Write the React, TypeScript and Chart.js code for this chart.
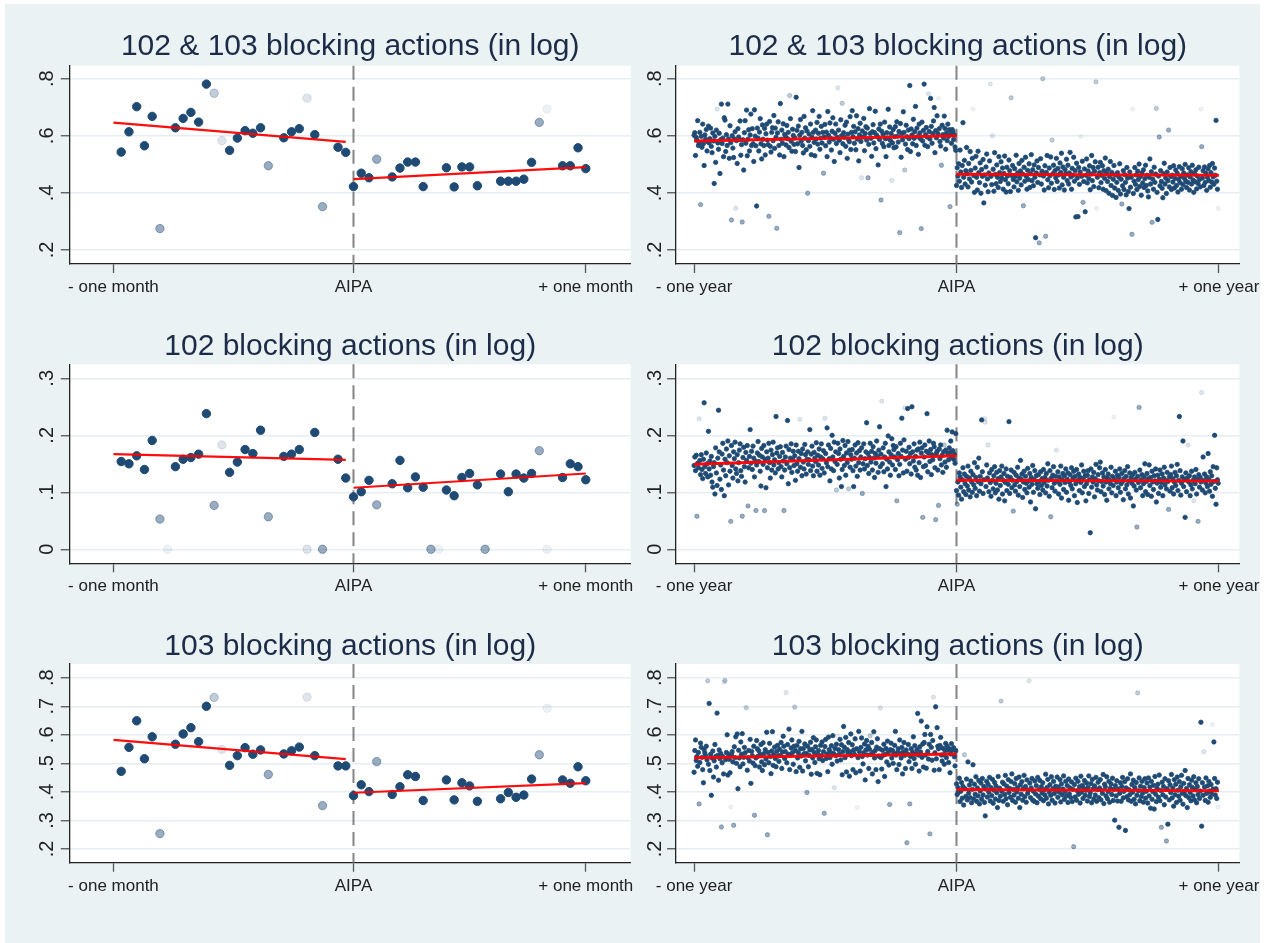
import React, { useEffect, useRef } from 'react';
import { Chart, registerables } from 'chart.js';

Chart.register(...registerables);

// ---------- DATA (values in thousandths; suffix a-d = faded marker, "-" = no marker) ----------
// one-month windows: pre = days -30..-1, post = days 0..30
const TL_PRE = "543 614 702 565 668 275a - 628 661 682 648 781 749b 583c 549 592 618 609 628 495a - 593 614 625 732c 604 352a - 560 542";
const TL_POST = "422 469 453 518a - 456 487 508 508 422 - - 488 421 491 491 425 - - 441 441 441 448 507 647a 694d - 495 495 558 485";
const ML_PRE = "154 150 164 140 191 053a 000d 145 158 161 167 238 077a 183c 135 153 175 168 209 057a - 163 167 175 000c 205 000a - 158 125";
const ML_POST = "092 101 121 078a - 115 156 108 127 109 000a 000d 104 094 126 133 113 000a - 132 101 132 125 133 173a 000d - 126 150 145 122";
const BL_PRE = "472 556 649 516 593 254a - 567 603 625 576 700 731b 549c 493 527 555 532 547 461a - 533 544 557 732c 527 352a - 491 491";
const BL_POST = "387 425 401 506a - 391 418 460 454 370 - - 442 372 432 421 367 - - 376 398 381 389 445 530a 693d - 442 430 488 439";

// one-year windows: pre = days -365..-1, post = days 0..364
const TR_PRE = `
602 611 531 594 585 653 566 575 612 359a 598 560 641 572 496 603 588 622 547 579
634 575 590 627 563 541 610 582 433 598 507 620 694c 575 553 609 468 586 711 573
592 527 663 655 545 604 566 711 589 521 635 576 305a 600 557 524 589 614 346c 583
503 625 596 587 652 532 569 298a 586 480 611 653 574 690 530 588 621 547 603 676
566 625 572 510 691 599 565 354 627 592 547 613 660 572 519 638 588 566 626 533
607 641 585 569 318a 650 563 543 612 628 583 671 556 627 595 276a 610 649 566 533
713 588 620 574 642 527 605 598 568 636 590 612 559 741b 660 581 546 623 601 570
593 545 735 619 572 634 489 602 657 581 612 566 540 668 592 628 551 617 399a 583
606 563 641 534 595 688 612 577 530 620 589 647 571 609 668 553 592 633 575 612
469a 596 640 565 613 527 685 602 578 645 591 550 616 663 588 510 609 641 573 595
768c 620 584 541 656 600 714b 572 611 595 637 563 648 521 606 586 579 667 552 612
688 597 633 574 614 551 670 589 625 512 603 644 580 453c 617 596 661 548 608 632
585 627 453a 570 695 608 591 528 614 639 575 611 686 555 602 597 498 624 587 641
375a 616 573 605 562 648 590 527 611 592 693 566 631 584 608 444c 575 622 558 597
632 561 649 599 578 615 261a 643 525 608 586 684 612 480b 571 637 597 552 620 590
776 545 624 603 572 658 591 614 703 566 627 597 535 641 610 589 275a 648 582 619
781 567 604 629 596 562 747c 615 589 731 633 574 608 652 699 541 618 593 670 608
732d 625 580 564 497a 637 604 592 669 626 553 610 583 641 598 621 352a 606 574 622
615 587 603 561 549`;
const TR_POST = `
426 488 459 502 441 550 473 419 496 646 455 514 431 478 559 467 421 503 449 545
479 438 521 694d 461 402 487 528 455 410 546 471 436 505 399 482 458 517 365 463
427 491 536 449 404 470 512 781c 458 429 600c 483 406 541 465 432 498 455 419 527
471 440 509 452 487 413 468 529 446 403 490 459 432 515 478 405 733b 461 496 447
421 485 458 532 439 470 409 503 452 477 428 514 466 355a 490 441 525 458 413 479
447 502 419 467 534 443 481 425 498 455 243 470 512 437 489 225a 463 520 431 476
800b 459 410 495 248a 472 531 446 418 487 460 526 434 585b 467 497 412 478 453 521
440 486 463 417 505 472 539 428 491 455 410 482 467 518 443 497 431 470 542 456
413 486 462 525 441 478 316 504 452 317 489 430 473 597d 458 511 367a 440 484 334
462 519 435 477 450 495 411 466 531 443 489 422 476 509 789b 346d 455 490 418 471
507 436 462 495 413 478 451 522 408 469 440 483 399 457 510 426 472 391 448 496
417 463 384 437 471 409 455 502 396 448 361a 425 478 412 464 437 393 489 452 405
345 473 420 455 255a 694d 398 441 489 430 463 412 476 447 501 423 458 392 470 435
481 419 450 497 426 462 407 386 455 519 431 474 297a 448 413 490 437 466 696b 402
307 459 596a 425 478 440 416 383 467 504 431 452 398 473 443 620a 421 489 457 412
462 438 495 417 451 480 426 469 403 447 492 436 458 413 485 429 470 451 500 441
419 463 437 488 410 456 474 431 497 445 402 468 439 481 414 459 433 490 447 421
694d 562a 452 478 426 491 437 468 409 455 484 443 496 420 471 438 503 456 430 487
462 654 441 413 346d`;
const MR_PRE = `
147 162 138 165 058a 151 143 229c 156 131 166 140 124 158 257 145 133 169 150 127
207 141 155 130 163 118 109 145 152 097 178 134 112 160 244 171 123 148 105 167
186 139 094 158 129 176 152 190 113 164 137 049a 182 147 125 171 159 188 141 133
166 120 152 174 185 138 128 058a 161 179 145 118 170 156 182 076a 143 163 210 151
172 140 181 160 127 155 068a 148 169 189 154 165 137 111 177 162 149 182 068a 158
108 171 143 160 186 152 125 174 139 166 188 148 157 134 233 169 178 141 152 163
180 145 127 170 155 068a 139 162 181 150 226 115 175 143 160 185 135 158 172 147
164 121 183 150 137 172 159 228c 144 168 129 176 153 141 184 166 132 158 171 149
157 210 138 167 181 146 129 170 160 154 187 137 165 148 176 130 162 185 142 159
173 134 230c 168 152 213 145 183 159 120 177 141 200 162 138 188 154 171 104b 149
186 168 125 176 158 110 140 191 163 147 182 130 169 152 189 106b 174 144 166 158
175 138 110 160 183 146 169 128 187 152 173 139 162 178 098a 150 185 141 159 171
222 147 168 133 161 186 153 172 139 180 160 126 168 151 190 163 135 174 215 145
167 260c 150 178 136 162 186 110 158 141 199 171 153 130 166 194 148 182 175 162
140 180 085a 157 168 129 149 186 163 230 174 134 192 248c 158 172 137 247 161 179
150 168 132 250 171 155 185 144 163 139 174 130 176 152 188 126 169 178 056a 145
162 183 147 172 238 136 169 190 154 175 131 166 157 186 180 143 052a 168 172 139
077a 176 159 183 148 165 135 171 183b 153 174 144 209 168 157 178 170 190 162 206
173 158 167 151 203`;
const MR_POST = `
103 079a 118 095 134 127 109 088 122 143 101 132 115 096 128 111 146 104 125 092
137 118 100 131 113 152 107 126 094 144 119 160 102 128 115 227 136 098 122 229c
223c 110 148 125 183c 101 134 117 093 140 121 106 129 145 099 116 135 104 124 088
138 112 127 146 097 121 133 085 117 141 103 128 114 224 098 126 139 108 121 067a
135 113 102 130 119 144 095 125 110 156 123 132 091 118 137 105 128 116 099 142
120 109 133 083 126 114 147 100 122 138 071 129 115 107 131 119 096 136 112 124
104 140 117 126 099 133 111 150 121 093 138 057a 125 108 130 145 116 102 128 174c
119 136 097 127 114 146 090 122 133 105 129 117 141 100 123 134 086 118 131 112
143 106 125 137 094 128 115 140 082 121 132 103 126 117 148 099 124 137 110 129
085 115 130 138 098 122 029 141 109 127 118 135 092 124 149 113 104 131 120 143
153 101 119 134 111 127 096 140 118 086 125 132 106 121 115 144 099 128 112 232d
123 137 094 118 130 108 126 141 100 115 133 119 087 124 138 106 128 113 145 097
120 134 090 126 116 131 076 111 135 123 104 039a 128 117 249a 139 108 122 131 094
115 127 150 101 119 133 096 124 148 112 126 093 137 118 105 129 120 141 083 116
130 098 123 139 109 117 132 094 125 144 113 121 106 135 119 070a 127 102 131 146
108 124 097 118 135 112 129 149 103 121 233 138 095 116 127 190 110 122 056 134
101 125 183c 118 129 094 113 137 106 121 085c 127 115 140 097 123 049a 131 109 126
118 275c 104 162 121 132 099 116 127 110 168 123 102 136 114 129 093 145 119 200
107 079 143 122 116`;
const BR_PRE = `
469 545 582 510 524 490 538 358a 503 571 556 521 478 432 548 536 527 560 512 789b
497 710 475 532 388 519 543 452 509 566 524 487 676 528 441 547 516 535 277a 502
524 463 785c 790b 513 538 600 459 531 514 467 347d 529 541 505 283a 558 520 593 500
603 411 546 519 488 575 532 604 498 521 556 537 696c 694c 476 520 545 508 584 430
542 527 501 560 318a 492 519 580 551 525 544 487 531 566 505 475 572 534 495 548
515 609 250a 538 502 570 524 464 543 611 493 530 557 517 488 542 563 526 507 550
528 573 482 540 595 560 517 541 748c 502 566 532 620 478 529 554 582 538 497 560
697b 545 471 563 519 537 577 486 551 526 612 473 552 534 568 509 535 398a 560 488
528 547 574 462 549 519 590 538 503 558 582 465 531 545 516 460 563 527 575 510
541 325a 559 584 517 533 471 592 548 520 538 562 497 597 535 415c 552 527 567 508
597d 548 532 584 512 565 460 541 629 557 520 591 470 548 537 573 455 540 603 527
565 478 547 532 586 467 551 345d 520 612 541 473 556 589 524 498 537 568 442 547
580 529 560 482 549 597b 531 573 463 539 611 519 545 478 557 586 436 525 551 694c
520 480 546 528 567 454 532 552 505 578 538 494 356a 548 571 519 545 500 534 563
612 529 478 539 551 496 582 535 519 556 463 540 573 528 482 547 222a 533 566 506
358a 524 551 482 539 593 517 562 497 533 548 675 529 473 558 540 648 521 568 487
573 601 529 483 628 542 515 567 253a 601 556 511 580 732c 476 537 698 516 625 560
551 478 563 591 529 508 553 530 497 545 570 520 560 546 503 551 467 533 569 546
548 555 523 491 544`;
const BR_POST = `
428 391 415 399 448 366 402 433 378 419 354 530b 411 384 445 372 505 396 424 380
438 362 409 495 376 427 392 453 367 414 386 440 358 403 431 374 447 389 419 363
316 410 437 382 426 399 451 368 415 387 444 360 406 433 375 421 397 345 454 370
413 385 718b 402 434 367 428 391 458 376 420 355 443 398 412 381 436 463 370 409
389 429 364 447 400 416 378 452 345 425 392 436 371 411 458 383 419 364 442 395
406 789c 431 380 414 447 371 402 367 438 393 422 362 451 385 409 440 376 418 396
432 369 407 389 462 378 416 444 358 400 425 388 453 371 411 437 394 361 420 405
452 381 417 399 443 365 428 390 410 456 374 401 437 386 422 363 445 393 414 380
435 366 409 208a 426 382 448 371 404 437 392 418 361 455 399 423 377 412 440 388
406 431 368 416 456 384 397 429 362 444 410 375 421 389 451 367 408 434 380 414
443 372 405 395 461 359 427 418 386 453 376 401 437 364 413 428 391 448 370 409
301 422 386 439 368 410 276 395 432 367 419 451 379 402 436 265 414 383 446 372
408 390 463 367 426 399 441 374 416 358 433 388 747b 404 449 369 420 384 437 396
364 415 446 378 402 431 361 449 386 417 343 437 374 401 423 340 454 392 366 413
427 381 459 369 405 276a 434 390 419 355 446 382 228a 411 287 439 372 425 398 461
379 414 350 443 390 427 363 452 406 385 436 371 418 458 395 357 430 401 475 387
412 345 447 380 425 398 369 441 416 386 453 372 408 432 362 419 391 446 377 403
644 280 432 388 541c 417 370 449 395 421 364 437 403 381 426 393 636d 410 575 447
389 411 377 434 347d`;

// fitted lines (pre / post), [day, value]
const TL_FIT = [[[-31, 0.646], [-1, 0.579]], [[0, 0.448], [30, 0.490]]];
const ML_FIT = [[[-31, 0.167], [-1, 0.157]], [[0, 0.108], [30, 0.133]]];
const BL_FIT = [[[-31, 0.582], [-1, 0.515]], [[0, 0.397], [30, 0.431]]];
const TR_FIT = [[[-365, 0.582], [0, 0.600]], [[0, 0.465], [365, 0.462]]];
const MR_FIT = [[[-365, 0.149], [0, 0.164]], [[0, 0.121], [365, 0.120]]];
const BR_FIT = [[[-365, 0.520], [0, 0.533]], [[0, 0.408], [365, 0.404]]];

const TITLES = ['102 & 103 blocking actions (in log)', '102 blocking actions (in log)', '103 blocking actions (in log)'];
const Y_TICKS = [[0.2, 0.4, 0.6, 0.8], [0, 0.1, 0.2, 0.3], [0.2, 0.3, 0.4, 0.5, 0.6, 0.7, 0.8]];
const Y_LABELS = [['.2', '.4', '.6', '.8'], ['0', '.1', '.2', '.3'], ['.2', '.3', '.4', '.5', '.6', '.7', '.8']];
const Y_RANGE = [[0.151, 0.8455], [-0.0246, 0.3246], [0.152, 0.848]];
const X_TICKS = [[-31, 0, 30], [-365, 0, 365]];
const X_LABELS = [['- one month', 'AIPA', '+ one month'], ['- one year', 'AIPA', '+ one year']];
const X_RANGE = [[-36.64, 35.79], [-390, 393.5]];

// ---------- layout / style ----------
const FONT = "'Liberation Sans', Arial, Helvetica, sans-serif";
const NAVY = '30,74,116';
const ALPHA: Record<string, number> = { '': 1, a: 0.45, b: 0.28, c: 0.14, d: 0.07 };
const ROWS = [
  { top: 4, areaTop: 61.7, areaBottom: 260, titleY: 51 },
  { top: 304, areaTop: 60.3, areaBottom: 259.3, titleY: 51 },
  { top: 604, areaTop: 60, areaBottom: 258.7, titleY: 51 },
];
const COLS = [
  { left: 5, width: 635, areaLeft: 64.8, areaRight: 625.6, r: 4.2, bw: 1, fitW: 2.2, ylOff: 16.5 },
  { left: 640, width: 620, areaLeft: 36.1, areaRight: 599.4, r: 2.2, bw: 0.8, fitW: 3, ylOff: 15.5 },
];
const CANVAS_H = 300;

type Pt = { x: number; y: number; a: number };
function parseSeries(pre: string, post: string): Pt[] {
  const p = pre.trim().split(/\s+/);
  const q = post.trim().split(/\s+/);
  const out: Pt[] = [];
  const add = (t: string, x: number) => {
    if (t === '-') return;
    const m = /^(\d+)([a-d]?)$/.exec(t);
    if (!m) return;
    out.push({ x, y: parseInt(m[1], 10) / 1000, a: ALPHA[m[2]] });
  };
  p.forEach((t, i) => add(t, -p.length + i));
  q.forEach((t, i) => add(t, i));
  return out;
}

const PANELS = [
  { row: 0, col: 0, pre: TL_PRE, post: TL_POST, fit: TL_FIT },
  { row: 0, col: 1, pre: TR_PRE, post: TR_POST, fit: TR_FIT },
  { row: 1, col: 0, pre: ML_PRE, post: ML_POST, fit: ML_FIT },
  { row: 1, col: 1, pre: MR_PRE, post: MR_POST, fit: MR_FIT },
  { row: 2, col: 0, pre: BL_PRE, post: BL_POST, fit: BL_FIT },
  { row: 2, col: 1, pre: BR_PRE, post: BR_POST, fit: BR_FIT },
];

function Panel({ cfg }: { cfg: typeof PANELS[number] }) {
  const ref = useRef<HTMLCanvasElement | null>(null);
  const row = ROWS[cfg.row];
  const col = COLS[cfg.col];
  useEffect(() => {
    if (!ref.current) return;
    const pts = parseSeries(cfg.pre, cfg.post);
    const yT = Y_TICKS[cfg.row];
    const yL = Y_LABELS[cfg.row];
    const xT = X_TICKS[cfg.col];
    const xL = X_LABELS[cfg.col];
    const title = TITLES[cfg.row];

    const decor = {
      id: 'decor',
      beforeDraw(chart: any) {
        const { ctx, chartArea: a } = chart;
        ctx.save();
        ctx.fillStyle = '#ffffff';
        ctx.fillRect(a.left, a.top, a.right - a.left, a.bottom - a.top);
        ctx.restore();
      },
      beforeDatasetsDraw(chart: any) {
        const { ctx, chartArea: a } = chart;
        const x0 = chart.scales.x.getPixelForValue(0);
        ctx.save();
        ctx.strokeStyle = 'rgba(120,120,120,0.9)';
        ctx.lineWidth = 2;
        ctx.setLineDash([14, 7]);
        ctx.beginPath();
        ctx.moveTo(x0, a.top);
        ctx.lineTo(x0, a.bottom);
        ctx.stroke();
        ctx.restore();
      },
      afterDraw(chart: any) {
        const { ctx, chartArea: a } = chart;
        ctx.save();
        ctx.fillStyle = '#1c2b48';
        ctx.font = `30px ${FONT}`;
        ctx.textAlign = 'center';
        ctx.textBaseline = 'alphabetic';
        ctx.fillText(title, (a.left + a.right) / 2, row.titleY);
        ctx.fillStyle = '#222222';
        ctx.font = `20px ${FONT}`;
        const ys = chart.scales.y;
        yT.forEach((v, i) => {
          const py = ys.getPixelForValue(v);
          ctx.save();
          ctx.translate(a.left - col.ylOff, py);
          ctx.rotate(-Math.PI / 2);
          ctx.textAlign = 'center';
          ctx.textBaseline = 'alphabetic';
          ctx.fillText(yL[i], 0, 0);
          ctx.restore();
        });
        ctx.restore();
      },
    };

    const fitDs = (seg: number[][]) => ({
      data: seg.map(([x, y]) => ({ x, y })),
      showLine: true,
      borderColor: 'rgba(255,0,0,0.95)',
      borderWidth: col.fitW,
      pointRadius: 0,
      fill: false,
      order: 0,
    });

    const chart = new Chart(ref.current, {
      type: 'scatter',
      data: {
        datasets: [
          {
            data: pts.map((p) => ({ x: p.x, y: p.y })),
            pointRadius: col.r,
            pointBorderWidth: col.bw,
            pointBackgroundColor: pts.map((p) => `rgba(${NAVY},${p.a})`),
            pointBorderColor: pts.map((p) => `rgba(${NAVY},${p.a})`),
            order: 1,
          } as any,
          fitDs(cfg.fit[0]) as any,
          fitDs(cfg.fit[1]) as any,
        ],
      },
      options: {
        animation: false,
        responsive: false,
        devicePixelRatio: 1,
        events: [],
        layout: {
          autoPadding: false,
          padding: { left: 0, right: col.width - col.areaRight, top: row.areaTop, bottom: 0 },
        },
        plugins: { legend: { display: false }, tooltip: { enabled: false }, title: { display: false } },
        scales: {
          x: {
            type: 'linear',
            min: X_RANGE[cfg.col][0],
            max: X_RANGE[cfg.col][1],
            afterBuildTicks: (s: any) => { s.ticks = xT.map((v) => ({ value: v })); },
            afterFit: (s: any) => { s.height = CANVAS_H - row.areaBottom; s.paddingLeft = 0; s.paddingRight = 0; },
            ticks: {
              callback: (_v: any, i: number) => xL[i],
              font: { family: FONT, size: 17 },
              color: '#222222',
              padding: 4,
              maxRotation: 0,
              minRotation: 0,
              autoSkip: false,
            },
            grid: { drawOnChartArea: false, drawTicks: true, tickLength: 9, tickColor: '#555555', tickWidth: 1.3 },
            border: { display: true, color: '#222222', width: 1.3 },
          },
          y: {
            type: 'linear',
            min: Y_RANGE[cfg.row][0],
            max: Y_RANGE[cfg.row][1],
            afterBuildTicks: (s: any) => { s.ticks = yT.map((v) => ({ value: v })); },
            afterFit: (s: any) => { s.width = col.areaLeft; s.paddingTop = 0; s.paddingBottom = 0; },
            ticks: { display: false },
            grid: { color: '#e6eef1', lineWidth: 1.5, drawTicks: true, tickLength: 9, tickColor: '#555555', tickWidth: 1.3 },
            border: { display: true, color: '#222222', width: 1.3 },
          },
        },
      } as any,
      plugins: [decor],
    });
    return () => chart.destroy();
  }, []);
  return (
    <canvas
      ref={ref}
      width={col.width}
      height={CANVAS_H}
      style={{ position: 'absolute', left: col.left, top: row.top, width: col.width, height: CANVAS_H }}
    />
  );
}

export default function App() {
  return (
    <div style={{ position: 'absolute', left: 0, top: 0, width: 1267, height: 943, background: '#ffffff', overflow: 'hidden' }}>
      <div style={{ position: 'absolute', left: 5, top: 4, width: 1255, height: 939, background: '#eaf2f3' }} />
      {PANELS.map((p, i) => (
        <Panel key={i} cfg={p} />
      ))}
    </div>
  );
}
